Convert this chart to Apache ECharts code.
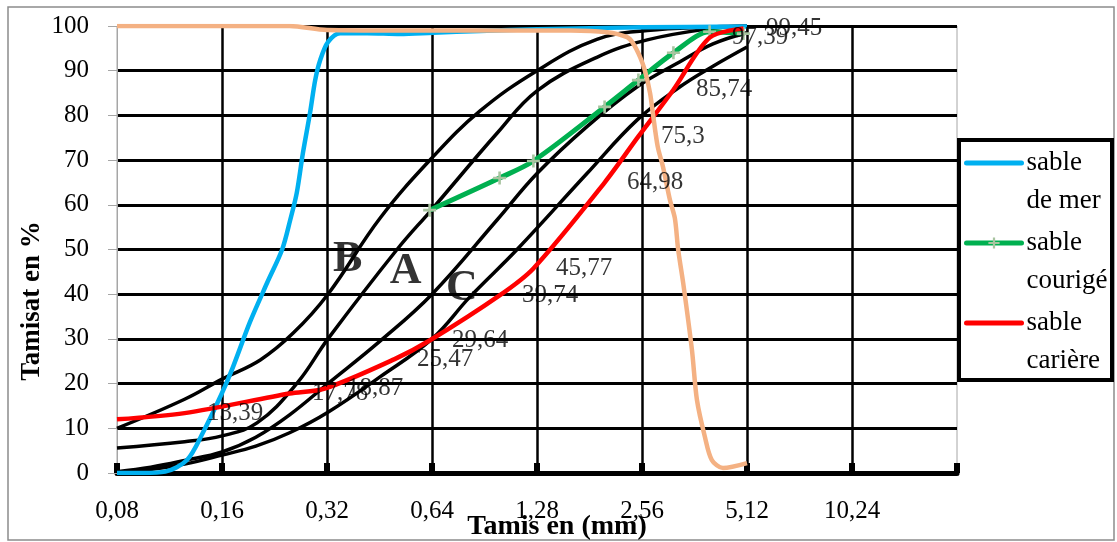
<!DOCTYPE html>
<html><head><meta charset="utf-8">
<script src="https://cdn.jsdelivr.net/npm/echarts@6/dist/echarts.min.js"></script>
<style>html,body{margin:0;padding:0;background:#fff}#c{width:1117px;height:542px}</style>
</head><body><div id="c"></div>
<script>
// ---- data (x in mm, y in % passing) ----
const xTickLabels = ['0,08','0,16','0,32','0,64','1,28','2,56','5,12','10,24',''];
const seriesNames = ['sable de mer','sable courigé','sable carière'];

const merX = [0.08,0.095,0.110,0.127,0.141,0.16,0.172,0.1925,0.2154,0.238,0.251,0.262,0.273,0.286,0.296,0.306,0.322,0.349,0.417,0.518,0.644,0.879,1.28,2.56,5.12];
const merY = [0,0,0.3,2.9,9,17.9,23.7,33.8,42.5,50,56.6,62.6,71.6,80.5,87.9,92.4,96.4,98.4,98.4,98.2,98.5,98.9,99.3,99.7,99.9];

const corrX = [0.63,1,1.25,2,2.5,3.15,4,5];
const corrY = [58.8,66,69.8,81.9,87.9,94,98.7,98.3];

const carX = [0.08,0.125,0.25,0.315,0.5,0.63,1,1.25,2,2.5,3.15,4,5];
const carY = [12,13.39,17.78,18.87,25.47,29.64,39.74,45.77,64.98,75.3,85.74,97.39,99.45];

const orX = [0.08,0.25,0.32,0.5,1,1.6,2.03,2.32,2.41,2.53,2.61,2.70,2.75,2.84,2.94,3.08,3.18,3.25,3.36,3.56,3.68,3.88,4.06,4.37,5.12];
const orY = [100,100,99.1,99,99,99,98.6,97.5,96.2,93,90,85,80.5,73,68.5,61,57,50,42.5,27.5,16.3,8,2.9,1.1,2.2];

// reference envelope curves (black)
const env1X = [0.08,0.125,0.16,0.206,0.256,0.322,0.454,0.64,0.879,1.28,1.9,2.65,4.09,5.12];
const env1Y = [10,16.5,21,25.3,31.3,40,57,70.5,81,90,97,99,99.8,100];
const env2X = [0.08,0.125,0.16,0.2016,0.262,0.322,0.508,0.64,0.983,1.28,1.9,2.65,4.09,5.12];
const env2Y = [5.6,7,8.3,11.2,20,30,50,59,76,85.5,93,96.9,99.5,100];
const env3X = [0.08,0.1,0.125,0.16,0.2,0.25,0.322,0.454,0.64,0.983,1.28,1.78,2.48,3.29,4.09,5.12];
const env3Y = [0.3,1.3,2.8,4.7,8,13,20,29.5,40,56.6,67,77.5,86.4,92,96,98.5];
const env4X = [0.08,0.1,0.125,0.16,0.2,0.25,0.322,0.454,0.64,0.822,1.122,1.78,2.48,3.29,4.09,5.12];
const env4Y = [0,0.8,2,4,6,9,13.6,21.5,30,39.4,50,67,79,86.4,91,95.3];

const zoneNames = ['B','A','C'];
const zoneX = [0.367,0.538,0.78];
const zoneY = [47.7,45,41.2];

// ---- chart ----
const FONT = '"Liberation Serif", "Times New Roman", serif';
const lx = v => Math.log2(v / 0.08);
const pts = (xs, ys) => xs.map((x, i) => [lx(x), ys[i]]);
const plus = 'path://M4,0h2v4h4v2h-4v4h-2v-4h-4v-2h4z';

const blackSeries = [[env1X, env1Y], [env2X, env2Y], [env3X, env3Y], [env4X, env4Y]].map((c, i) => ({
  type: 'line', name: 'fuseau' + i, data: pts(c[0], c[1]), smooth: 0.4, symbol: 'none', silent: true, z: 2,
  lineStyle: { color: '#000', width: 3.5 }
}));

const chart = echarts.init(document.getElementById('c'));
chart.setOption({
  animation: false,
  backgroundColor: '#fff',
  grid: { left: 117, top: 26, width: 840, height: 447, show: true, borderColor: '#a6a6a6', borderWidth: 1 },
  xAxis: {
    type: 'value', min: 0, max: 8, interval: 1,
    axisLine: { lineStyle: { color: '#000', width: 5 } },
    axisTick: { inside: true, length: 10, lineStyle: { color: '#000', width: 6 } },
    axisLabel: { formatter: v => xTickLabels[Math.round(v)], color: '#000', fontFamily: FONT, fontSize: 25, margin: 26 },
    splitLine: { show: true, showMinLine: false, showMaxLine: false, lineStyle: { color: '#000', width: 2.5 } }
  },
  yAxis: {
    type: 'value', min: 0, max: 100, interval: 10,
    axisLine: { show: true, lineStyle: { color: '#a6a6a6', width: 1 } },
    axisTick: { show: true, length: 9, lineStyle: { color: '#a6a6a6' } },
    axisLabel: { color: '#000', fontFamily: FONT, fontSize: 25, margin: 28 },
    splitLine: { show: true, showMinLine: false, lineStyle: { color: '#000', width: 3 } }
  },
  legend: {
    orient: 'vertical', left: 964, top: 106, padding: 0, itemGap: -34,
    itemWidth: 55, itemHeight: 14,
    data: [
      { name: seriesNames[0], itemStyle: { opacity: 0 } },
      { name: seriesNames[1] },
      { name: seriesNames[2], itemStyle: { opacity: 0 } }
    ],
    formatter: n => '\n' + n.replace(' ', '\n'),
    lineStyle: { width: 5, cap: 'round' },
    textStyle: { fontFamily: FONT, fontSize: 27, lineHeight: 38, color: '#000' }
  },
  graphic: [
    { type: 'rect', shape: { x: 8, y: 7, width: 1106, height: 533 }, style: { fill: 'none', stroke: '#8c8c8c', lineWidth: 1.5 }, z: -1 },
    { type: 'rect', shape: { x: 959, y: 140, width: 153, height: 240 }, style: { fill: 'none', stroke: '#000', lineWidth: 4 }, z: 10 },
    { type: 'text', x: 32, y: 301, rotation: Math.PI / 2, style: { text: 'Tamisat en %', font: 'bold 27px ' + FONT, fill: '#000', align: 'center', verticalAlign: 'middle' } },
    { type: 'text', x: 557, y: 527, style: { text: 'Tamis en (mm)', font: 'bold 28px ' + FONT, fill: '#000', align: 'center', verticalAlign: 'middle' } }
  ],
  series: blackSeries.concat([
    { type: 'line', name: seriesNames[0], data: pts(merX, merY), smooth: 0.3, symbol: 'none', z: 3,
      lineStyle: { color: '#00B0F0', width: 4.5 }, itemStyle: { color: '#00B0F0' } },
    { type: 'line', name: seriesNames[1], data: pts(corrX, corrY), smooth: 0.3, symbol: plus, symbolSize: 13, showSymbol: true, z: 4,
      lineStyle: { color: '#00B050', width: 5 }, itemStyle: { color: '#A8C4A0' } },
    { type: 'line', name: seriesNames[2], data: pts(carX, carY), smooth: 0.3, symbol: 'none', z: 5,
      lineStyle: { color: '#FF0000', width: 4.5 }, itemStyle: { color: '#FF0000' } },
    { type: 'line', name: 'tamisat', data: pts(orX, orY), smooth: 0.3, symbol: 'none', z: 6,
      lineStyle: { color: '#F4B183', width: 4.5 } },
    { type: 'scatter', name: 'labels', data: pts(carX.slice(1), carY.slice(1)), symbolSize: 1, z: 7, silent: true,
      itemStyle: { color: 'rgba(0,0,0,0)' },
      label: { show: true, position: 'right', distance: 22, color: '#000', fontFamily: FONT, fontSize: 25,
        formatter: p => String(p.value[1]).replace('.', ',') } },
    { type: 'scatter', name: 'zones', data: pts(zoneX, zoneY), symbolSize: 1, z: 7, silent: true,
      itemStyle: { color: 'rgba(0,0,0,0)' },
      label: { show: true, position: 'inside', color: '#000', fontFamily: FONT, fontSize: 44, fontWeight: 'bold',
        formatter: p => zoneNames[p.dataIndex] } }
  ])
});
</script></body></html>
